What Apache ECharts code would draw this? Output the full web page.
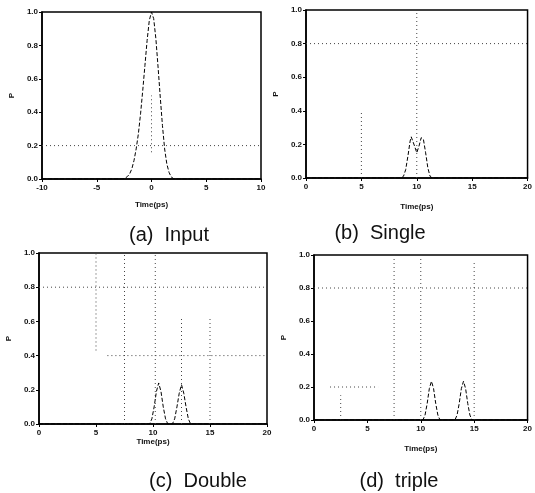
<!DOCTYPE html>
<html><head><meta charset="utf-8">
<script src="https://cdn.jsdelivr.net/npm/echarts@6/dist/echarts.min.js"></script>
<style>html,body{margin:0;padding:0;background:#fff}#c{width:535px;height:493px}</style>
</head><body><div id="c"></div>
<script>
// ---- data ----
const yTicks = [0, 0.2, 0.4, 0.6, 0.8, 1.0];
const captions = ['(a)  Input', '(b)  Single', '(c)  Double', '(d)  triple'];
const axisTitleX = 'Time(ps)';
const axisTitleY = 'P';

const timeA  = [-10, -2.6, -2.4, -2.2, -2.0, -1.8, -1.6, -1.4, -1.2, -1.0, -0.8, -0.6, -0.4, -0.2, 0.0, 0.2, 0.4, 0.6, 0.8, 1.0, 1.2, 1.4, 1.6, 1.8, 2.0, 2.2, 10];
const powerA = [0, 0, 0.005, 0.015, 0.03, 0.06, 0.11, 0.18, 0.27, 0.39, 0.53, 0.68, 0.83, 0.95, 1.0, 0.96, 0.84, 0.67, 0.49, 0.32, 0.18, 0.09, 0.04, 0.012, 0.003, 0, 0];

const timeB  = [0, 8.6, 8.8, 9.0, 9.2, 9.4, 9.5, 9.6, 9.8, 10.0, 10.2, 10.4, 10.5, 10.6, 10.8, 11.0, 11.2, 11.4, 20];
const powerB = [0, 0, 0.01, 0.05, 0.13, 0.22, 0.245, 0.24, 0.19, 0.15, 0.19, 0.24, 0.245, 0.23, 0.15, 0.06, 0.01, 0, 0];

const timeC  = [0, 9.7, 9.9, 10.1, 10.3, 10.5, 10.7, 10.9, 11.1, 11.3, 11.7, 11.9, 12.1, 12.3, 12.5, 12.7, 12.9, 13.1, 13.3, 20];
const powerC = [0, 0, 0.03, 0.10, 0.19, 0.24, 0.19, 0.10, 0.03, 0, 0, 0.03, 0.10, 0.18, 0.23, 0.18, 0.10, 0.03, 0, 0];

const timeD  = [0, 10.2, 10.4, 10.6, 10.8, 11.0, 11.2, 11.4, 11.6, 11.8, 13.2, 13.4, 13.6, 13.8, 14.0, 14.2, 14.4, 14.6, 14.8, 20];
const powerD = [0, 0, 0.03, 0.10, 0.19, 0.235, 0.19, 0.10, 0.03, 0, 0, 0.03, 0.10, 0.19, 0.235, 0.19, 0.10, 0.03, 0, 0];

// dotted reference strokes visible in the scanned figure: [x1,y1,x2,y2]
const dotsA = [[-10, 0.2, 10, 0.2], [0, 0.16, 0, 0.5]];
const dotsB = [[0, 0.8, 20, 0.8], [10, 0, 10, 1], [5, 0, 5, 0.4]];
const dotsC = [[0, 0.8, 20, 0.8], [5, 0.43, 5, 1], [7.5, 0, 7.5, 1], [10.2, 0, 10.2, 1], [12.5, 0, 12.5, 0.62], [15, 0, 15, 0.62], [6, 0.4, 20, 0.4]];
const dotsD = [[0, 0.8, 20, 0.8], [7.5, 0, 7.5, 1], [10, 0, 10, 1], [15, 0, 15, 0.96], [2.5, 0, 2.5, 0.15], [1.5, 0.2, 6, 0.2]];

const xRanges = [[-10, 10], [0, 20], [0, 20], [0, 20]];

// ---- layout ----
const grids = [
  {left: 42, top: 12, width: 219, height: 167},
  {left: 306, top: 10, width: 225, height: 168},
  {left: 39, top: 253, width: 228, height: 171},
  {left: 314, top: 255, width: 219, height: 165}
];
const nameGaps = [22, 25, 13, 25];
const capPos = [[164, 220], [375, 218], [193, 466], [394, 466]];

const zip = (a, b) => a.map((v, i) => [v, b[i]]);
const curves = [zip(timeA, powerA), zip(timeB, powerB), zip(timeC, powerC), zip(timeD, powerD)];
const dots = [dotsA, dotsB, dotsC, dotsD];

const lblFont = {fontFamily: 'Liberation Sans, Arial', fontSize: 8, fontWeight: 'bold', color: '#111'};

const xAxis = [], yAxis = [], series = [], title = [];
grids.forEach((g, i) => {
  xAxis.push({
    gridIndex: i, type: 'value', min: xRanges[i][0], max: xRanges[i][1], interval: 5,
    name: axisTitleX, nameLocation: 'middle', nameGap: nameGaps[i],
    nameTextStyle: lblFont,
    axisLine: {onZero: false, lineStyle: {color: '#000', width: 1.5}},
    axisTick: {inside: false, length: 3, lineStyle: {color: '#000'}},
    axisLabel: Object.assign({margin: 5}, lblFont),
    splitLine: {show: false}
  });
  yAxis.push({
    gridIndex: i, type: 'value', min: 0, max: 1, interval: 0.2,
    name: axisTitleY, nameLocation: 'middle', nameGap: 26,
    nameTextStyle: lblFont,
    axisLine: {onZero: false, lineStyle: {color: '#000', width: 1.5}},
    axisTick: {inside: false, length: 3, lineStyle: {color: '#000'}},
    axisLabel: Object.assign({margin: 4, formatter: v => v.toFixed(1)}, lblFont),
    splitLine: {show: false}
  });
  series.push({
    type: 'line', xAxisIndex: i, yAxisIndex: i, data: curves[i], symbol: 'none',
    lineStyle: {color: '#000', width: 1, type: [4, 2]}, z: 5, animation: false
  });
  dots[i].forEach(s => {
    series.push({
      type: 'line', xAxisIndex: i, yAxisIndex: i, data: [[s[0], s[1]], [s[2], s[3]]], symbol: 'none',
      lineStyle: {color: '#444', width: 1, type: [1, 3]}, z: 2, animation: false, silent: true
    });
  });
  title.push({
    text: captions[i], left: capPos[i][0], top: capPos[i][1], textAlign: 'center',
    textStyle: {fontFamily: 'Liberation Sans, Arial', fontSize: 20, fontWeight: 'normal', color: '#111'}
  });
});

const chart = echarts.init(document.getElementById('c'));
chart.setOption({
  animation: false,
  backgroundColor: '#fff',
  title: title,
  grid: grids.map(g => Object.assign({show: true, borderColor: '#000', borderWidth: 1.5, backgroundColor: 'transparent'}, g)),
  xAxis: xAxis, yAxis: yAxis, series: series
});
</script></body></html>
